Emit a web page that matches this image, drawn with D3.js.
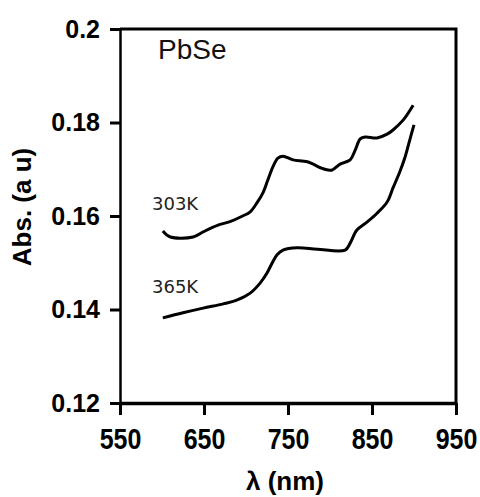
<!DOCTYPE html>
<html>
<head>
<meta charset="utf-8">
<script src="https://cdn.jsdelivr.net/npm/d3@7"></script>
<style>
  html, body { margin: 0; padding: 0; background: #fff; }
  svg { display: block; }
</style>
</head>
<body>
<div id="chart"></div>
<script>
// wavelength (nm) and absorbance
const wl303 = [601, 610, 637, 649, 666, 681, 696, 705, 713, 720, 726, 732, 738, 744, 756, 773, 792, 802, 812, 824, 830, 836, 842, 856, 868, 875, 887, 899];
const abs303 = [0.1568, 0.1555, 0.1555, 0.1566, 0.1580, 0.1588, 0.1600, 0.1609, 0.1628, 0.1649, 0.1677, 0.1705, 0.1724, 0.1728, 0.1720, 0.1716, 0.1701, 0.1698, 0.1711, 0.1720, 0.1741, 0.1765, 0.1769, 0.1767, 0.1775, 0.1784, 0.1805, 0.1837];

const wl365 = [601, 625, 649, 673, 689, 705, 717, 725, 731, 737, 744, 761, 785, 818, 824, 832, 844, 856, 868, 875, 883, 889, 895, 900];
const abs365 = [0.1382, 0.1393, 0.1403, 0.1412, 0.1420, 0.1435, 0.1457, 0.1478, 0.1499, 0.1517, 0.1527, 0.1532, 0.1529, 0.1527, 0.1542, 0.1570, 0.1587, 0.1606, 0.1630, 0.1660, 0.1694, 0.1724, 0.1763, 0.1795];

const xTicks = [550, 650, 750, 850, 950];
const yTicks = [0.12, 0.14, 0.16, 0.18, 0.2];
const yTickLabels = ["0.12", "0.14", "0.16", "0.18", "0.2"];

const width = 480, height = 497;
const margin = {left: 120, right: 24, top: 29, bottom: 94};

const svg = d3.select("#chart").append("svg")
    .attr("width", width)
    .attr("height", height);

const x = d3.scaleLinear().domain([550, 950]).range([margin.left, width - margin.right]);
const y = d3.scaleLinear().domain([0.12, 0.2]).range([height - margin.bottom, margin.top]);

const font = "'Liberation Sans', Arial, sans-serif";

// frame (top and right)
svg.append("path")
    .attr("d", `M${x(550)},${y(0.2)}H${x(950)}V${y(0.12)}`)
    .attr("fill", "none")
    .attr("stroke", "#000")
    .attr("stroke-width", 3);

// x axis
const gx = svg.append("g")
    .attr("transform", `translate(0,${y(0.12)})`)
    .call(d3.axisBottom(x).tickValues(xTicks).tickSize(12).tickSizeOuter(0).tickPadding(10));
gx.select(".domain").attr("stroke-width", 3.5);
gx.selectAll(".tick line").attr("stroke-width", 3);
gx.selectAll(".tick text")
    .attr("font-family", font)
    .attr("font-weight", "bold")
    .attr("font-size", 25)
    .attr("fill", "#000")
    .attr("transform", "scale(1,1.15)");

// y axis
const gy = svg.append("g")
    .attr("transform", `translate(${x(550)},0)`)
    .call(d3.axisLeft(y).tickValues(yTicks).tickFormat((d, i) => yTickLabels[i]).tickSize(10).tickSizeOuter(0).tickPadding(10));
gy.select(".domain").attr("stroke-width", 2.5);
gy.selectAll(".tick line").attr("stroke-width", 3);
gy.selectAll(".tick text")
    .attr("font-family", font)
    .attr("font-weight", "bold")
    .attr("font-size", 25)
    .attr("fill", "#000");

// axis titles
svg.append("text")
    .attr("x", 285)
    .attr("y", 490)
    .attr("text-anchor", "middle")
    .attr("font-family", font)
    .attr("font-weight", "bold")
    .attr("font-size", 26)
    .text("λ (nm)");

svg.append("text")
    .attr("transform", "translate(31,207) rotate(-90)")
    .attr("text-anchor", "middle")
    .attr("font-family", font)
    .attr("font-weight", "bold")
    .attr("font-size", 26)
    .text("Abs. (a u)");

// curves
const line = d3.line()
    .x(d => x(d[0]))
    .y(d => y(d[1]))
    .curve(d3.curveCatmullRom);

const series = [
    {wl: wl303, abs: abs303},
    {wl: wl365, abs: abs365}
];

svg.selectAll("path.curve")
    .data(series)
    .enter().append("path")
    .attr("class", "curve")
    .attr("d", s => line(s.wl.map((w, i) => [w, s.abs[i]])))
    .attr("fill", "none")
    .attr("stroke", "#000")
    .attr("stroke-width", 3)
    .attr("stroke-linejoin", "round");

// annotations
svg.append("text")
    .attr("x", 158)
    .attr("y", 59)
    .attr("font-family", font)
    .attr("font-size", 28)
    .attr("fill", "#111")
    .text("PbSe");

const labels = [["303K", 0.1613], ["365K", 0.1436]];
svg.selectAll("text.temp")
    .data(labels)
    .enter().append("text")
    .attr("class", "temp")
    .attr("x", 152)
    .attr("y", d => y(d[1]))
    .attr("font-family", "'DejaVu Sans', Verdana, sans-serif")
    .attr("font-size", 18)
    .attr("fill", "#222")
    .text(d => d[0]);
</script>
</body>
</html>
